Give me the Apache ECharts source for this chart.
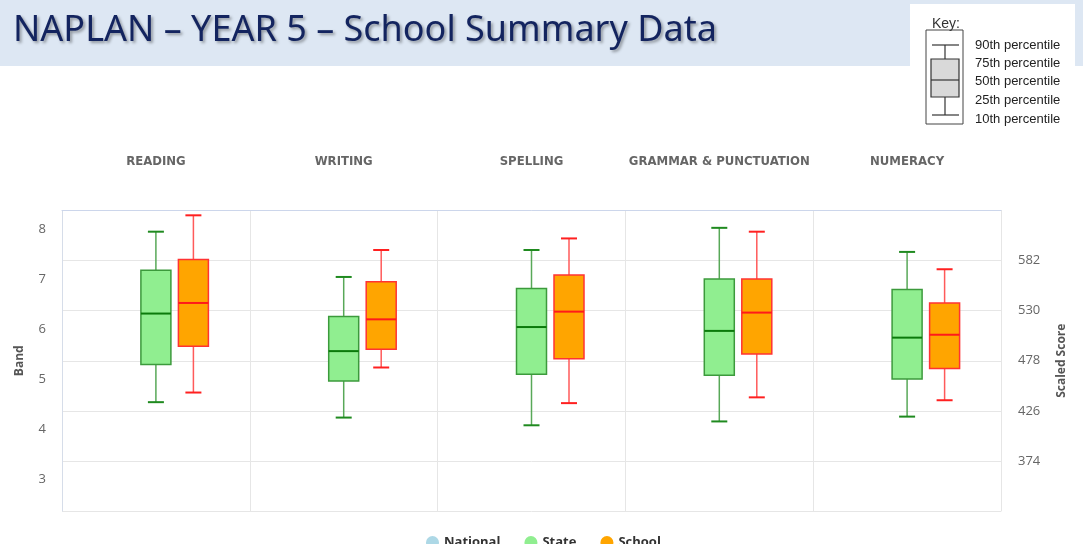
<!DOCTYPE html>
<html>
<head>
<meta charset="utf-8">
<script src="https://cdn.jsdelivr.net/npm/echarts@6/dist/echarts.min.js"></script>
<style>
  html, body { margin: 0; padding: 0; background: #fff; }
  #main { width: 1083px; height: 544px; }
</style>
</head>
<body>
<div id="main"></div>
<script>
const categories = ['READING', 'WRITING', 'SPELLING', 'GRAMMAR & PUNCTUATION', 'NUMERACY'];
const bandLabels = ['3', '4', '5', '6', '7', '8'];
const scoreLabels = ['', '374', '426', '478', '530', '582', ''];
const scoreMin = 322;
const scoreMax = 634;

// [10th, 25th, 50th, 75th, 90th] scaled score
const nationalBoxes = [];
const stateBoxes = [
    [435, 474, 527, 572, 612],
    [419, 457, 488, 524, 565],
    [411, 464, 513, 553, 593],
    [415, 463, 509, 563, 616],
    [420, 459, 502, 552, 591]
];
const schoolBoxes = [
    [445, 493, 538, 583, 629],
    [471, 490, 521, 560, 593],
    [434, 480, 529, 567, 605],
    [440, 485, 528, 563, 612],
    [437, 470, 505, 538, 573]
];

const keyLabels = ['90th percentile', '75th percentile', '50th percentile', '25th percentile', '10th percentile'];

function boxRenderer(offset, st) {
    return function (params, api) {
        const c = api.value(0);
        const p = [1, 2, 3, 4, 5].map(d => api.coord([c, api.value(d)]));
        const x = p[0][0] + offset;
        const half = 15, cap = 8;
        return {
            type: 'group',
            children: [
                { type: 'line', shape: { x1: x, y1: p[4][1], x2: x, y2: p[3][1] }, style: { stroke: st.whisker, lineWidth: 1.5 } },
                { type: 'line', shape: { x1: x, y1: p[1][1], x2: x, y2: p[0][1] }, style: { stroke: st.whisker, lineWidth: 1.5 } },
                { type: 'line', shape: { x1: x - cap, y1: p[4][1], x2: x + cap, y2: p[4][1] }, style: { stroke: st.cap, lineWidth: 2 } },
                { type: 'line', shape: { x1: x - cap, y1: p[0][1], x2: x + cap, y2: p[0][1] }, style: { stroke: st.cap, lineWidth: 2 } },
                { type: 'rect', shape: { x: x - half, y: p[3][1], width: half * 2, height: p[1][1] - p[3][1] }, style: { fill: st.fill, stroke: st.border, lineWidth: 1.5 } },
                { type: 'line', shape: { x1: x - half, y1: p[2][1], x2: x + half, y2: p[2][1] }, style: { stroke: st.median, lineWidth: 2 } }
            ]
        };
    };
}

function boxSeries(name, rows, offset, st) {
    return {
        name: name,
        type: 'custom',
        xAxisIndex: 0,
        yAxisIndex: 2,
        itemStyle: { color: st.legend },
        encode: { x: 0, y: [1, 2, 3, 4, 5] },
        data: rows.map((r, i) => [i].concat(r)),
        renderItem: boxRenderer(offset, st),
        silent: true
    };
}

const chart = echarts.init(document.getElementById('main'));

const keyGraphics = [
    { type: 'rect', shape: { x: 0, y: 0, width: 1083, height: 66 }, style: { fill: '#dde7f3' }, z: -10 },
    { type: 'rect', shape: { x: 910, y: 4, width: 165, height: 126 }, style: { fill: '#fff' } },
    { type: 'text', x: 932, y: 24, style: { text: 'Key:', fill: '#333', font: '14px "Liberation Sans", Arial, sans-serif', verticalAlign: 'middle' } },
    { type: 'rect', shape: { x: 926, y: 30, width: 37, height: 94 }, style: { fill: 'none', stroke: '#444', lineWidth: 1 } },
    { type: 'line', shape: { x1: 945, y1: 45, x2: 945, y2: 59 }, style: { stroke: '#333', lineWidth: 1.2 } },
    { type: 'line', shape: { x1: 945, y1: 97, x2: 945, y2: 115 }, style: { stroke: '#333', lineWidth: 1.2 } },
    { type: 'line', shape: { x1: 932, y1: 45, x2: 959, y2: 45 }, style: { stroke: '#333', lineWidth: 1.2 } },
    { type: 'line', shape: { x1: 932, y1: 115, x2: 959, y2: 115 }, style: { stroke: '#333', lineWidth: 1.2 } },
    { type: 'rect', shape: { x: 931, y: 59, width: 28, height: 38 }, style: { fill: '#d9d9d9', stroke: '#333', lineWidth: 1.2 } },
    { type: 'line', shape: { x1: 931, y1: 80, x2: 959, y2: 80 }, style: { stroke: '#333', lineWidth: 1.2 } }
];
const keyYs = [45, 63, 81, 100, 119];
keyLabels.forEach((t, i) => {
    keyGraphics.push({
        type: 'text', x: 975, y: keyYs[i],
        style: { text: t, fill: '#222', font: '13px "Liberation Sans", Arial, sans-serif', verticalAlign: 'middle' }
    });
});

chart.setOption({
    animation: false,
    backgroundColor: '#fff',
    title: {
        text: 'NAPLAN – YEAR 5 – School Summary Data',
        left: 8,
        top: 8,
        textStyle: {
            fontFamily: '"Noto Sans", sans-serif',
            fontSize: 36,
            fontWeight: 'normal',
            color: '#13245f',
            textShadowColor: 'rgba(0,0,0,0.35)',
            textShadowBlur: 3,
            textShadowOffsetX: 2,
            textShadowOffsetY: 2
        }
    },
    graphic: keyGraphics,
    legend: {
        data: ['National', 'State', 'School'],
        left: 421,
        top: 531,
        icon: 'circle',
        itemWidth: 13,
        itemHeight: 13,
        itemGap: 24,
        textStyle: { fontFamily: '"Open Sans", sans-serif', fontSize: 13, fontWeight: 'bold', color: '#333' }
    },
    grid: { left: 62, right: 82, top: 210.5, bottom: 33 },
    xAxis: [{
        type: 'category',
        position: 'top',
        data: categories,
        boundaryGap: true,
        axisLine: { lineStyle: { color: '#ccd6eb' } },
        axisTick: { show: false },
        axisLabel: {
            interval: 0,
            margin: 42,
            fontFamily: '"Liberation Sans Narrow", "DejaVu Sans Condensed", sans-serif',
            fontWeight: 'bold',
            fontSize: 13,
            color: '#666'
        },
        splitLine: { show: true, interval: 0, lineStyle: { color: '#e6e6e6' } }
    }],
    yAxis: [{
        type: 'category',
        position: 'left',
        data: bandLabels,
        boundaryGap: true,
        name: 'Band',
        nameLocation: 'middle',
        nameRotate: 90,
        nameGap: 36,
        nameTextStyle: { fontFamily: '"Open Sans", sans-serif', fontSize: 12, fontWeight: 'bold', color: '#555' },
        axisLine: { show: true, lineStyle: { color: '#d6dde9' } },
        axisTick: { show: false },
        axisLabel: { interval: 0, margin: 16, verticalAlign: 'bottom', fontFamily: '"Open Sans", sans-serif', fontSize: 13, color: '#666' },
        splitLine: { show: true, interval: 0, lineStyle: { color: '#e6e6e6' } }
    }, {
        type: 'category',
        position: 'right',
        data: scoreLabels,
        boundaryGap: false,
        name: 'Scaled Score',
        nameLocation: 'middle',
        nameRotate: 90,
        nameGap: 55,
        nameTextStyle: { fontFamily: '"Open Sans", sans-serif', fontSize: 12, fontWeight: 'bold', color: '#555' },
        axisLine: { show: true, lineStyle: { color: '#e6e6e6' } },
        axisTick: { show: false },
        axisLabel: { interval: 0, margin: 17, fontFamily: '"Open Sans", sans-serif', fontSize: 13, color: '#666' },
        splitLine: { show: false }
    }, {
        type: 'value',
        min: scoreMin,
        max: scoreMax,
        show: false,
        splitLine: { show: false }
    }],
    series: [
        boxSeries('National', nationalBoxes, -37.5, { legend: '#add8e6', fill: '#add8e6', border: '#5b9bd5', whisker: '#5b9bd5', cap: '#5b9bd5', median: '#2f6fa8' }),
        boxSeries('State', stateBoxes, 0, { legend: '#90ee90', fill: '#90ee90', border: '#3c9a3c', whisker: '#58a858', cap: '#1f8a1f', median: '#0b7a0b' }),
        boxSeries('School', schoolBoxes, 37.5, { legend: '#ffa500', fill: '#ffa500', border: '#ff3333', whisker: '#ff5a5a', cap: '#ff2020', median: '#ff1a1a' })
    ]
});
</script>
</body>
</html>
